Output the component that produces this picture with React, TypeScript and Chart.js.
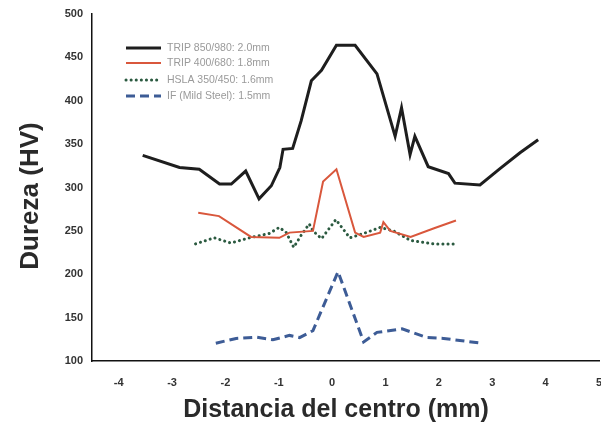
import React, { useEffect, useRef } from "react";
import { Chart, registerables } from "chart.js";

Chart.register(...registerables);

const seriesNames = [
  "TRIP 850/980: 2.0mm",
  "TRIP 400/680: 1.8mm",
  "HSLA 350/450: 1.6mm",
  "IF (Mild Steel): 1.5mm",
];

const trip850X = [-3.55, -2.86, -2.49, -2.11, -1.89, -1.62, -1.37, -1.14, -0.98, -0.92, -0.74, -0.58, -0.39, -0.2, 0.08, 0.43, 0.84, 1.18, 1.3, 1.46, 1.55, 1.8, 2.18, 2.3, 2.77, 3.15, 3.52, 3.86];
const trip850Y = [337, 323, 321, 304, 304, 319, 287, 302, 323, 344, 345, 377, 423, 435, 464, 464, 431, 359, 392, 338, 359, 324, 316, 305, 303, 322, 340, 355];

const trip400X = [-2.51, -2.12, -1.52, -0.99, -0.8, -0.36, -0.17, 0.08, 0.43, 0.59, 0.9, 0.96, 1.09, 1.47, 1.91, 2.32];
const trip400Y = [271, 267, 243, 242, 248, 250, 307, 321, 248, 243, 248, 260, 250, 243, 253, 262];

const hslaX = [-2.56, -2.21, -1.9, -1.55, -1.18, -0.99, -0.86, -0.72, -0.58, -0.43, -0.36, -0.2, 0.07, 0.33, 0.59, 0.9, 1.15, 1.47, 1.91, 2.32];
const hslaY = [235, 242, 236, 242, 247, 254, 248, 231, 245, 258, 250, 241, 263, 242, 247, 254, 250, 239, 235, 235];

const ifX = [-2.18, -1.8, -1.43, -1.11, -0.8, -0.61, -0.36, 0.11, 0.59, 0.84, 1.31, 1.78, 2.09, 2.79];
const ifY = [120.5, 126, 127.5, 124.5, 129.5, 127, 135, 203, 122, 133, 137, 127, 126, 120.5];

const xTicks = [-4, -3, -2, -1, 0, 1, 2, 3, 4, 5];
const yTicks = [100, 150, 200, 250, 300, 350, 400, 450, 500];

const xTitle = "Distancia del centro (mm)";
const yTitle = "Dureza (HV)";

const toPts = (xs: number[], ys: number[]) => xs.map((x, i) => ({ x, y: ys[i] }));

const overlayPlugin = {
  id: "overlay",
  afterDraw(chart: any) {
    const ctx = chart.ctx;
    ctx.save();
    // legend
    const ys = [48, 63, 80, 96];
    chart.data.datasets.forEach((ds: any, i: number) => {
      ctx.beginPath();
      ctx.setLineDash(ds.borderDash || []);
      ctx.lineCap = ds.borderCapStyle || "butt";
      ctx.strokeStyle = ds.borderColor;
      ctx.lineWidth = ds.borderWidth;
      ctx.moveTo(126, ys[i]);
      ctx.lineTo(161, ys[i]);
      ctx.stroke();
      ctx.setLineDash([]);
      ctx.fillStyle = "#9a9a9a";
      ctx.font = "10.5px 'Liberation Sans', Arial, sans-serif";
      ctx.textAlign = "left";
      ctx.textBaseline = "middle";
      ctx.fillText(ds.label, 167, ys[i] + 0.5);
    });
    // axis titles
    ctx.fillStyle = "#2a2a2a";
    ctx.font = "bold 25px 'Liberation Sans', Arial, sans-serif";
    ctx.textAlign = "center";
    ctx.textBaseline = "middle";
    ctx.fillText(xTitle, 336, 410);
    ctx.translate(31, 196);
    ctx.rotate(-Math.PI / 2);
    ctx.font = "bold 26px 'Liberation Sans', Arial, sans-serif";
    ctx.fillText(yTitle, 0, 0);
    ctx.restore();
  },
};

export default function App() {
  const ref = useRef<HTMLCanvasElement>(null);
  useEffect(() => {
    if (!ref.current) return;
    const chart = new Chart(ref.current, {
      type: "line",
      data: {
        datasets: [
          {
            label: seriesNames[0],
            data: toPts(trip850X, trip850Y),
            borderColor: "#1e1e1e",
            borderWidth: 3,
            pointRadius: 0,
            tension: 0,
          },
          {
            label: seriesNames[1],
            data: toPts(trip400X, trip400Y),
            borderColor: "#d9573c",
            borderWidth: 2,
            pointRadius: 0,
            tension: 0,
          },
          {
            label: seriesNames[2],
            data: toPts(hslaX, hslaY),
            borderColor: "#2b5a40",
            borderWidth: 3,
            borderDash: [0.1, 5],
            borderCapStyle: "round",
            pointRadius: 0,
            tension: 0,
          },
          {
            label: seriesNames[3],
            data: toPts(ifX, ifY),
            borderColor: "#3d5c96",
            borderWidth: 3,
            borderDash: [9, 5],
            pointRadius: 0,
            tension: 0,
          },
        ] as any,
      },
      options: {
        animation: false,
        responsive: false,
        layout: { autoPadding: false, padding: { top: 14, right: 2, left: 0, bottom: 0 } },
        plugins: { legend: { display: false }, tooltip: { enabled: false } },
        scales: {
          x: {
            type: "linear",
            min: -4.5,
            max: 5,
            grid: { display: false, drawTicks: false },
            border: { display: true, color: "#111", width: 1.5 },
            afterBuildTicks: (axis: any) => {
              axis.ticks = xTicks.map((v) => ({ value: v }));
            },
            afterFit: (axis: any) => {
              axis.height = 71;
              axis.paddingLeft = 0;
              axis.paddingRight = 0;
            },
            ticks: {
              padding: 15,
              color: "#333",
              font: { family: "'Liberation Sans', Arial, sans-serif", size: 11, weight: "bold" },
              callback: (v: any) => String(v),
            },
          },
          y: {
            type: "linear",
            min: 100,
            max: 500,
            grid: { display: false, drawTicks: false },
            border: { display: true, color: "#111", width: 1.5 },
            afterBuildTicks: (axis: any) => {
              axis.ticks = yTicks.map((v) => ({ value: v }));
            },
            afterFit: (axis: any) => {
              axis.width = 92;
              axis.paddingTop = 0;
              axis.paddingBottom = 0;
            },
            ticks: {
              padding: 9,
              color: "#333",
              font: { family: "'Liberation Sans', Arial, sans-serif", size: 11, weight: "bold" },
              callback: (v: any) => String(v),
            },
          },
        },
      } as any,
      plugins: [overlayPlugin],
    });
    return () => chart.destroy();
  }, []);
  return (
    <div style={{ position: "absolute", left: 0, top: 0, width: 601, height: 432, background: "#fff" }}>
      <canvas ref={ref} width={601} height={432} />
    </div>
  );
}
